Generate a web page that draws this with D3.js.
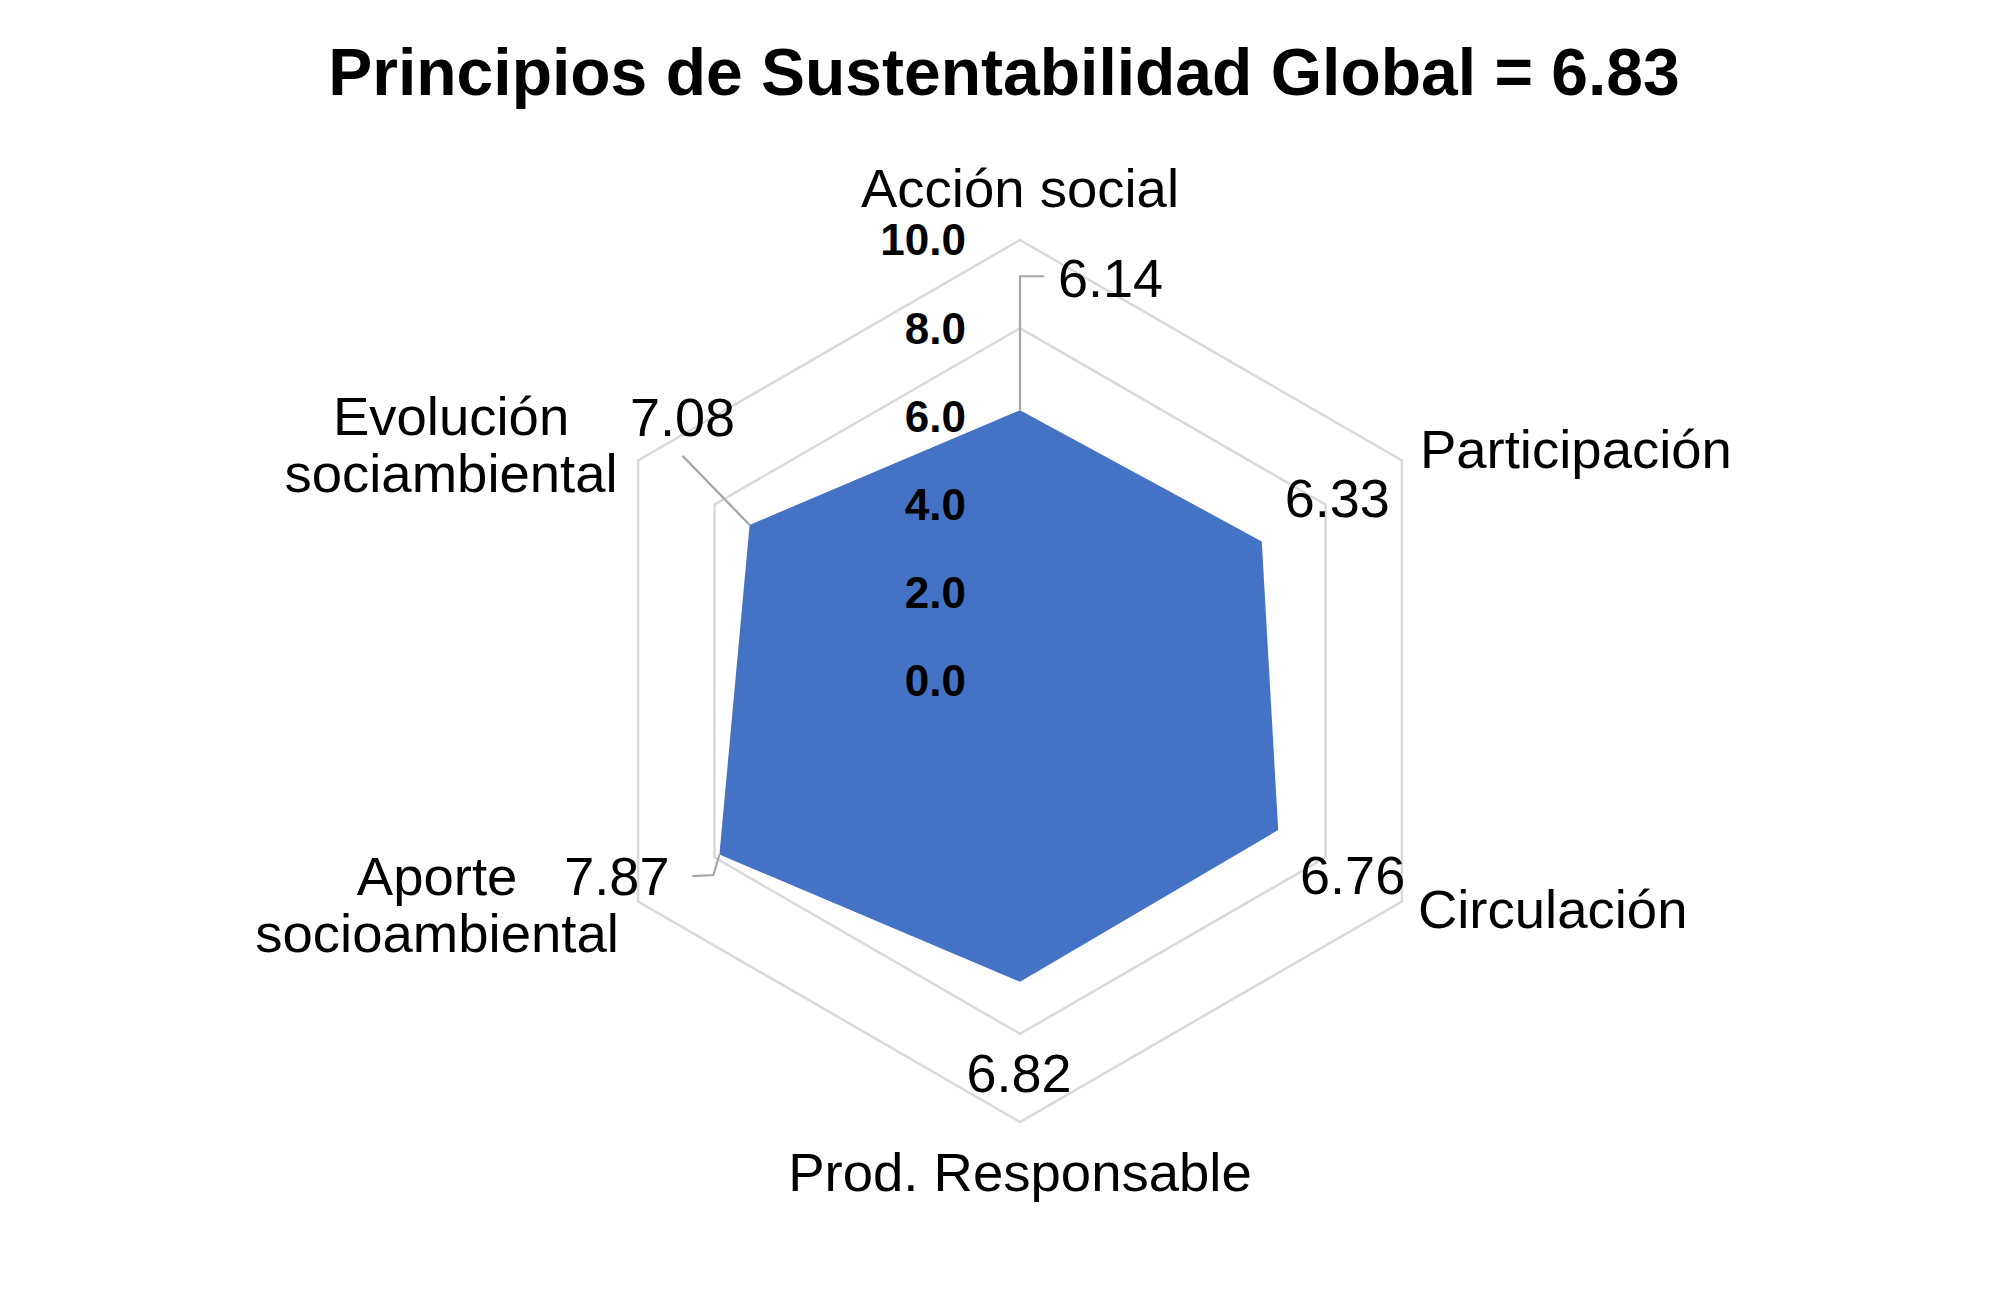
<!DOCTYPE html>
<html>
<head>
<meta charset="utf-8">
<script src="https://cdn.jsdelivr.net/npm/d3@7/dist/d3.min.js"></script>
<style>
  html, body { margin: 0; padding: 0; background: #fff; }
  svg { display: block; font-family: "Liberation Sans", Arial, Helvetica, sans-serif; }
</style>
</head>
<body>
<svg id="chart" width="2016" height="1301"></svg>
<script>
// ---- data ----
const titleText = "Principios de Sustentabilidad Global = 6.83";
const categories = [
  ["Acción social"],
  ["Participación"],
  ["Circulación"],
  ["Prod. Responsable"],
  ["Aporte", "socioambiental"],
  ["Evolución", "sociambiental"]
];
const values = [6.14, 6.33, 6.76, 6.82, 7.87, 7.08];
const ticks = [0, 2, 4, 6, 8, 10];
const tickLabels = ["0.0", "2.0", "4.0", "6.0", "8.0", "10.0"];

// ---- layout (not data) ----
const W = 2016, H = 1301;
const cx = 1020, cy = 681, R = 441;
const catFont = 54.5, valFont = 54, tickFont = 44;

// category label placement relative to outer vertex
const catLayout = [
  {dx: 0, dy: -33, anchor: "middle"},
  {dx: 18, dy: 7.5, anchor: "start"},
  {dx: 16, dy: 26.5, anchor: "start"},
  {dx: 0, dy: 69, anchor: "middle"},
  {dx: -201, dy: -6.5, anchor: "middle"},
  {dx: -187, dy: -25.5, anchor: "middle"}
];
// value label placement relative to data point; leader = polyline offsets
const valLayout = [
  {dx: 38, dy: -113, anchor: "start", leader: [[0, 0], [0, -134], [24, -134]]},
  {dx: 128, dy: -24.5, anchor: "end", leader: null},
  {dx: 127, dy: 64, anchor: "end", leader: null},
  {dx: -1, dy: 110, anchor: "middle", leader: null},
  {dx: -50, dy: 40.5, anchor: "end", leader: [[0, 0], [-6, 20.5], [-27, 21.5]]},
  {dx: -67, dy: -89, anchor: "middle", leader: [[0, 0], [-67, -69]]}
];

const svg = d3.select("#chart");
const r = d3.scaleLinear().domain([0, 10]).range([0, R]);
const n = categories.length;
const angle = d3.scaleLinear().domain([0, n]).range([0, 2 * Math.PI]);

function pt(i, v) {
  const a = angle(i);
  return [cx + r(v) * Math.sin(a), cy - r(v) * Math.cos(a)];
}

// grid rings
const ring = d3.line().curve(d3.curveLinearClosed);
svg.append("g").selectAll("path")
  .data(ticks.filter(t => t > 0))
  .join("path")
  .attr("d", t => ring(d3.range(n).map(i => pt(i, t))))
  .attr("fill", "none")
  .attr("stroke", "#d9d9d9")
  .attr("stroke-width", 2.5);

// data polygon
svg.append("path")
  .attr("d", ring(values.map((v, i) => pt(i, v))))
  .attr("fill", "#4472C4")
  .attr("stroke", "none");

// tick labels
svg.append("g").selectAll("text")
  .data(ticks)
  .join("text")
  .attr("x", cx - 54)
  .attr("y", t => cy - r(t))
  .attr("dy", "0.35em")
  .attr("text-anchor", "end")
  .attr("font-size", tickFont)
  .attr("font-weight", "bold")
  .attr("fill", "#000")
  .text((t, i) => tickLabels[i]);

// leader lines
const lineGen = d3.line();
svg.append("g").selectAll("path")
  .data(values.map((v, i) => ({v, i})).filter(d => valLayout[d.i].leader))
  .join("path")
  .attr("d", d => {
    const p = pt(d.i, d.v);
    return lineGen(valLayout[d.i].leader.map(o => [p[0] + o[0], p[1] + o[1]]));
  })
  .attr("fill", "none")
  .attr("stroke", "#a6a6a6")
  .attr("stroke-width", 2.2);

// value labels
svg.append("g").selectAll("text")
  .data(values)
  .join("text")
  .attr("x", (v, i) => pt(i, v)[0] + valLayout[i].dx)
  .attr("y", (v, i) => pt(i, v)[1] + valLayout[i].dy)
  .attr("text-anchor", (v, i) => valLayout[i].anchor)
  .attr("font-size", valFont)
  .attr("fill", "#000")
  .text(v => d3.format(".2f")(v));

// category labels
const cat = svg.append("g").selectAll("text")
  .data(categories)
  .join("text")
  .attr("x", (c, i) => pt(i, 10)[0] + catLayout[i].dx)
  .attr("y", (c, i) => pt(i, 10)[1] + catLayout[i].dy)
  .attr("text-anchor", (c, i) => catLayout[i].anchor)
  .attr("font-size", catFont)
  .attr("fill", "#000");
cat.each(function(c, i) {
  const x = pt(i, 10)[0] + catLayout[i].dx;
  d3.select(this).selectAll("tspan")
    .data(c)
    .join("tspan")
    .attr("x", x)
    .attr("dy", (s, j) => j === 0 ? 0 : 56.7)
    .text(s => s);
});

// title
svg.append("text")
  .attr("x", 1004)
  .attr("y", 95)
  .attr("text-anchor", "middle")
  .attr("font-size", 66)
  .attr("font-weight", "bold")
  .attr("fill", "#000")
  .text(titleText);
</script>
</body>
</html>
